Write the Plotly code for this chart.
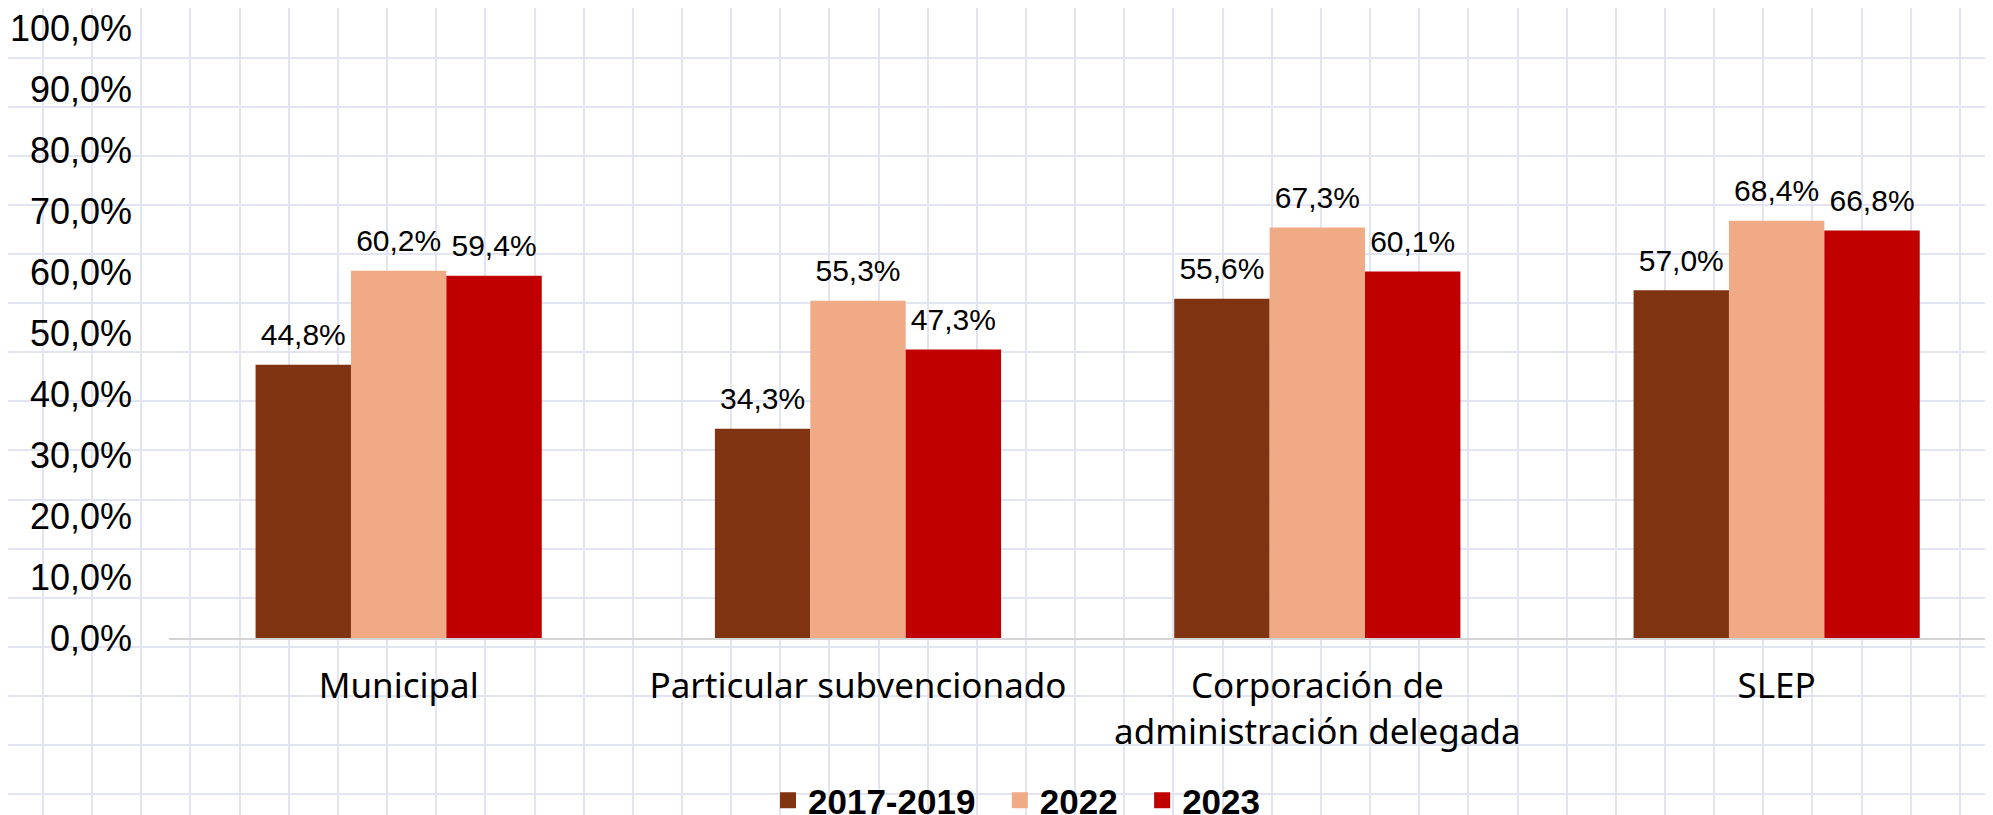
import plotly.graph_objects as go

# categories and series
categories = ["Municipal", "Particular subvencionado",
              "Corporación de<br>administración delegada", "SLEP"]
series_names = ["2017-2019", "2022", "2023"]
v_2017_2019 = [44.8, 34.3, 55.6, 57.0]
v_2022 = [60.2, 55.3, 67.3, 68.4]
v_2023 = [59.4, 47.3, 60.1, 66.8]
colors = ["#7f3311", "#f1aa86", "#c00000"]

# the page body has an 8px margin, so the figure is laid out 8px smaller
W, H = 1985, 807
GAP = 0.377
NBSP = "\u00a0\u00a0"  # a bit of room between legend entries

fig = go.Figure()

# legend-only traces on the background subplot (they have no points),
# this also makes the graph-paper subplot get drawn
for name, col in zip(series_names, colors):
    fig.add_trace(go.Scatter(
        x=[None], y=[None], name=name + NBSP,
        mode="markers", marker=dict(symbol="square", size=16, color=col),
        xaxis="x", yaxis="y", hoverinfo="skip",
    ))

for name, vals, col in zip(series_names, [v_2017_2019, v_2022, v_2023], colors):
    fig.add_trace(go.Bar(
        x=categories, y=vals, name=name, showlegend=False,
        marker=dict(color=col, line=dict(width=0)),
        xaxis="x2", yaxis="y2", hoverinfo="skip",
    ))

# data labels, grouped like the bars
for vals in [v_2017_2019, v_2022, v_2023]:
    fig.add_trace(go.Scatter(
        x=categories, y=vals, mode="markers+text",
        marker=dict(size=18, opacity=0),
        texttemplate="%{y:.1f}%", textposition="top center",
        textfont=dict(family="Liberation Sans, Arial", size=30, color="#000"),
        xaxis="x2", yaxis="y2", showlegend=False, hoverinfo="skip",
        cliponaxis=False,
    ))

fig.update_layout(
    width=W, height=H,
    margin=dict(l=0, r=0, t=0, b=0, autoexpand=False),
    paper_bgcolor="white", plot_bgcolor="rgba(0,0,0,0)",
    separators=",.",
    barmode="group", bargap=GAP, bargroupgap=0,
    scattermode="group", scattergap=GAP,
    # graph-paper background
    xaxis=dict(domain=[0, 1], range=[0, W], anchor="y", automargin=False,
               type="linear",
               tick0=35, dtick=49.15, showgrid=True, gridcolor="#e2e4f2",
               gridwidth=1.6, showticklabels=False, zeroline=False,
               showline=False, ticks="", fixedrange=True),
    yaxis=dict(domain=[0, 1], range=[H, 0], anchor="x", automargin=False,
               type="linear",
               tick0=1, dtick=49.05, showgrid=True, gridcolor="#e2e4f2",
               gridwidth=1.6, showticklabels=False, zeroline=False,
               showline=False, ticks="", fixedrange=True),
    # chart axes
    xaxis2=dict(domain=[161 / W, 1], range=[-0.5, 3.471], anchor="y2",
                automargin=False,
                type="category", showgrid=False, zeroline=False,
                showline=True, linecolor="#d4d4d4", linewidth=2,
                ticks="", ticklabelstandoff=16,
                tickfont=dict(family="Noto Sans", size=35, color="#000")),
    yaxis2=dict(domain=[(H - 630) / H, (H - 20) / H], range=[0, 100],
                anchor="x2", automargin=False, ticklabeloverflow="allow",
                dtick=10, tickformat=".1f", ticksuffix="%",
                showgrid=False, zeroline=False, showline=False, ticks="",
                ticklabelstandoff=36,
                tickfont=dict(family="Liberation Sans, Arial", size=36,
                              color="#000")),
    legend=dict(orientation="h", x=760 / W, xanchor="left",
                y=(H - 763) / H, yanchor="top", bgcolor="rgba(0,0,0,0)",
                itemsizing="trace",
                font=dict(family="Liberation Sans, Arial", size=35,
                          color="#000", weight="bold")),
)

fig.write_html("out.html")
